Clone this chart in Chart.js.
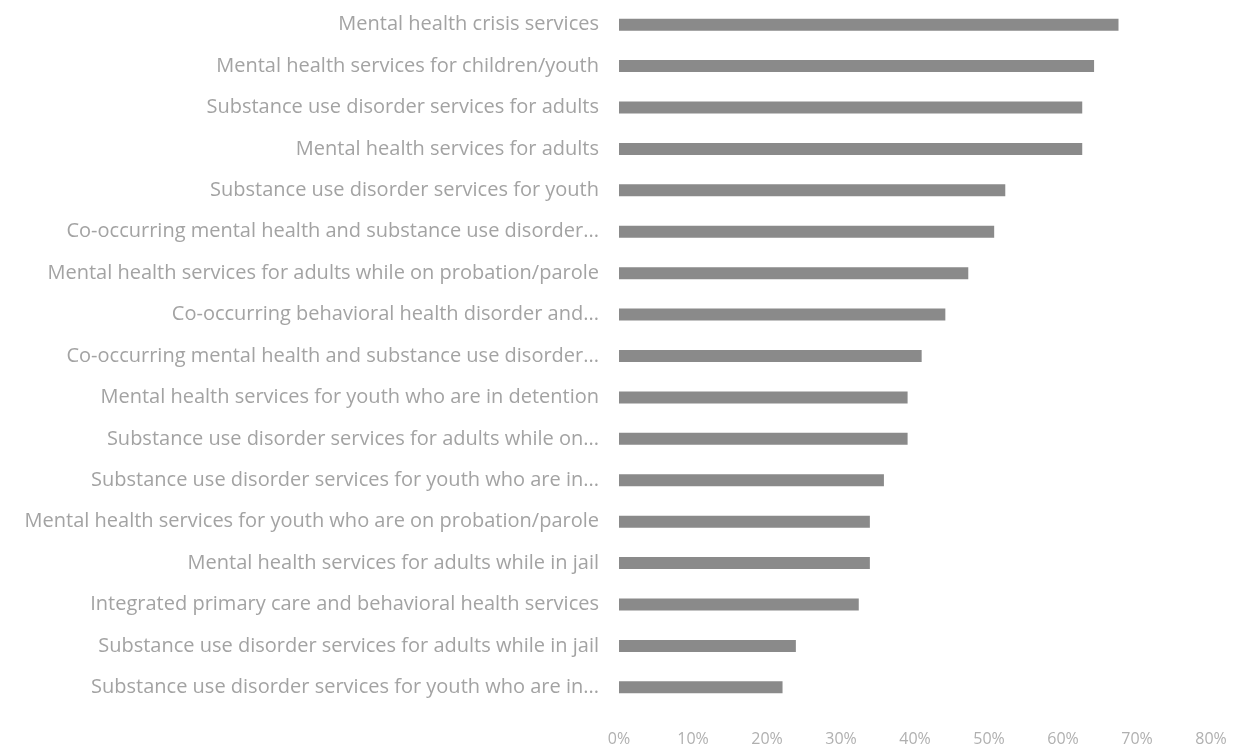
<!DOCTYPE html>
<html lang="en">
<head>
<meta charset="UTF-8">
<title>Services</title>
<script src="https://cdn.jsdelivr.net/npm/chart.js"></script>
<style>
  html, body { margin: 0; padding: 0; background: #fff; }
  #wrap { width: 1236px; height: 750px; position: relative; }
</style>
</head>
<body>
<div id="wrap"><canvas id="grafico"></canvas></div>
<script>
// ================= DATA =================
const categorias = [
  "Mental health crisis services",
  "Mental health services for children/youth",
  "Substance use disorder services for adults",
  "Mental health services for adults",
  "Substance use disorder services for youth",
  "Co-occurring mental health and substance use disorder...",
  "Mental health services for adults while on probation/parole",
  "Co-occurring behavioral health disorder and...",
  "Co-occurring mental health and substance use disorder...",
  "Mental health services for youth who are in detention",
  "Substance use disorder services for adults while on...",
  "Substance use disorder services for youth who are in...",
  "Mental health services for youth who are on probation/parole",
  "Mental health services for adults while in jail",
  "Integrated primary care and behavioral health services",
  "Substance use disorder services for adults while in jail",
  "Substance use disorder services for youth who are in..."
];
const valores = [67.5, 64.2, 62.6, 62.6, 52.2, 50.7, 47.2, 44.1, 40.9, 39.0, 39.0, 35.8, 33.9, 33.9, 32.4, 23.9, 22.1];
const ticksX = [0, 10, 20, 30, 40, 50, 60, 70, 80];

// ================= CHART =================
const ctx = document.getElementById('grafico').getContext('2d');
new Chart(ctx, {
  type: 'bar',
  data: {
    labels: categorias,
    datasets: [{
      data: valores,
      backgroundColor: '#8a8a8a',
      barPercentage: 0.58,
      categoryPercentage: 0.5
    }]
  },
  options: {
    indexAxis: 'y',
    responsive: true,
    maintainAspectRatio: false,
    animation: false,
    layout: { padding: { top: 4, right: 25, bottom: 3, left: 0 } },
    plugins: { legend: { display: false }, tooltip: { enabled: false } },
    scales: {
      x: {
        min: ticksX[0],
        max: ticksX[ticksX.length - 1],
        afterBuildTicks: axis => { axis.ticks = ticksX.map(v => ({ value: v })); },
        // fixed axis height so the plot area keeps its place
        afterFit: axis => {
          axis.height = 39;
          axis.paddingLeft = 0;
          axis.paddingRight = 0;
        },
        grid: { display: false, drawTicks: false },
        border: { display: false },
        ticks: {
          padding: 22,
          color: '#b0b0b0',
          font: { family: 'Open Sans', size: 16 },
          callback: v => v + '%'
        }
      },
      y: {
        grid: { display: false, drawTicks: false },
        border: { display: false },
        afterFit: axis => {
          axis.width = 619;
          axis.paddingTop = 0;
          axis.paddingBottom = 0;
        },
        ticks: {
          padding: 20,
          color: '#a3a3a3',
          font: { family: 'Open Sans', size: 20 }
        }
      }
    }
  }
});
</script>
</body>
</html>
